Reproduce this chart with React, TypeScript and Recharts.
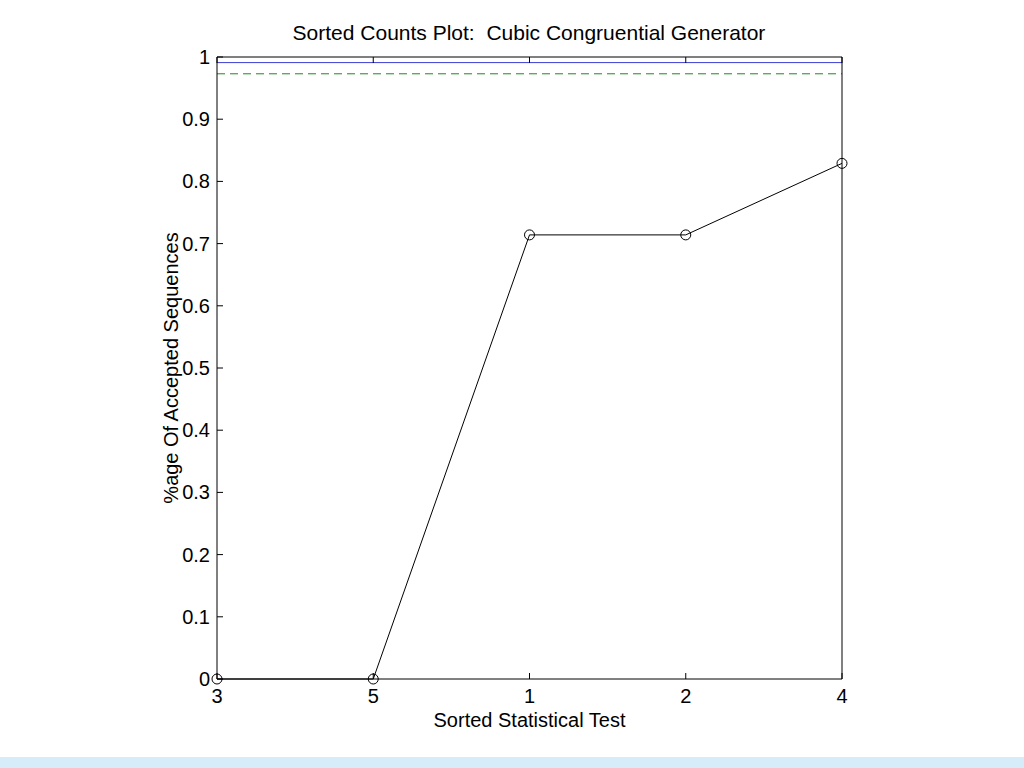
import { LineChart, Line, XAxis, YAxis, ReferenceLine } from "recharts";

const tests = ["3", "5", "1", "2", "4"];
const accepted = [0, 0, 0.714, 0.714, 0.829];
const yTicks = [0, 0.1, 0.2, 0.3, 0.4, 0.5, 0.6, 0.7, 0.8, 0.9, 1];
const upperLevel = 0.991;
const lowerLevel = 0.973;

const data = tests.map((t, i) => ({ test: t, value: accepted[i] }));

const font = "'Liberation Sans', Arial, Helvetica, sans-serif";
const TICK = 6;

const YLabel = (props: any) => {
    const { viewBox } = props;
    const x = viewBox.x + 14;
    const y = viewBox.y + viewBox.height / 2;
    return (
        <text
            x={x}
            y={y}
            transform={`rotate(-90 ${x} ${y})`}
            textAnchor="middle"
            dominantBaseline="central"
            fontSize={20}
            fontFamily={font}
            fill="#000"
        >
            %age Of Accepted Sequences
        </text>
    );
};

// ticks point into the plot, labels sit outside
const LeftTick = (props: any) => {
    const { x, y, payload } = props;
    const ax = x + 7;
    return (
        <g>
            <line x1={ax} x2={ax + TICK} y1={y} y2={y} stroke="#000" />
            <text x={x} y={y} textAnchor="end" dominantBaseline="central" fontSize={20} fontFamily={font} fill="#000">
                {payload.value}
            </text>
        </g>
    );
};

const BottomTick = (props: any) => {
    const { x, y, payload } = props;
    const ay = y - 2;
    return (
        <g>
            <line x1={x} x2={x} y1={ay} y2={ay - TICK} stroke="#000" />
            <text x={x} y={ay + 24} textAnchor="middle" fontSize={20} fontFamily={font} fill="#000">
                {payload.value}
            </text>
        </g>
    );
};

const TopTick = (props: any) => {
    const { x, y } = props;
    return <line x1={x} x2={x} y1={y} y2={y + TICK} stroke="#000" />;
};

const RightTick = (props: any) => {
    const { x, y } = props;
    return <line x1={x - TICK} x2={x} y1={y} y2={y} stroke="#000" />;
};

const App = () => {
    return (
        <div style={{ position: "absolute", left: 0, top: 0, width: 1024, height: 768, background: "#fff" }}>
            <div
                style={{
                    position: "absolute",
                    left: 0,
                    width: 1058,
                    top: 21,
                    textAlign: "center",
                    fontFamily: font,
                    fontSize: 21,
                    lineHeight: "24px",
                    color: "#000",
                }}
            >
                Sorted Counts Plot:&nbsp; Cubic Congruential Generator
            </div>
            <LineChart
                width={1024}
                height={768}
                data={data}
                margin={{ top: 56, right: 172, left: 157, bottom: 29 }}
            >
                <XAxis
                    dataKey="test"
                    xAxisId="bottom"
                    height={60}
                    stroke="#000"
                    tickLine={false}
                    tickSize={0}
                    tickMargin={2}
                    tick={<BottomTick />}
                    label={{ value: "Sorted Statistical Test", position: "insideBottom", offset: 12, fill: "#000", fontSize: 20, fontFamily: font }}
                />
                <XAxis
                    dataKey="test"
                    xAxisId="top"
                    orientation="top"
                    height={1}
                    stroke="#000"
                    tickLine={false}
                    tickSize={0}
                    tickMargin={0}
                    tick={<TopTick />}
                />
                <YAxis
                    yAxisId="left"
                    type="number"
                    domain={[0, 1]}
                    ticks={yTicks}
                    interval={0}
                    width={60}
                    stroke="#000"
                    tickLine={false}
                    tickSize={0}
                    tickMargin={7}
                    tick={<LeftTick />}
                    label={<YLabel />}
                />
                <YAxis
                    yAxisId="right"
                    orientation="right"
                    type="number"
                    domain={[0, 1]}
                    ticks={yTicks}
                    interval={0}
                    width={10}
                    stroke="#000"
                    tickLine={false}
                    tickSize={0}
                    tickMargin={0}
                    tick={<RightTick />}
                />
                <ReferenceLine y={upperLevel} xAxisId="bottom" yAxisId="left" stroke="#3c3cd2" strokeWidth={1} />
                <ReferenceLine y={lowerLevel} xAxisId="bottom" yAxisId="left" stroke="#1f8a1f" strokeWidth={1} strokeDasharray="8 5" />
                <Line
                    xAxisId="bottom"
                    yAxisId="left"
                    dataKey="value"
                    stroke="#000"
                    strokeWidth={1}
                    dot={{ r: 5, stroke: "#000", strokeWidth: 1, fill: "none" }}
                    activeDot={false}
                    isAnimationActive={false}
                />
            </LineChart>
            <div style={{ position: "absolute", left: 0, top: 757, width: 1024, height: 11, background: "#d6ecfa" }} />
        </div>
    );
};

export default App;
